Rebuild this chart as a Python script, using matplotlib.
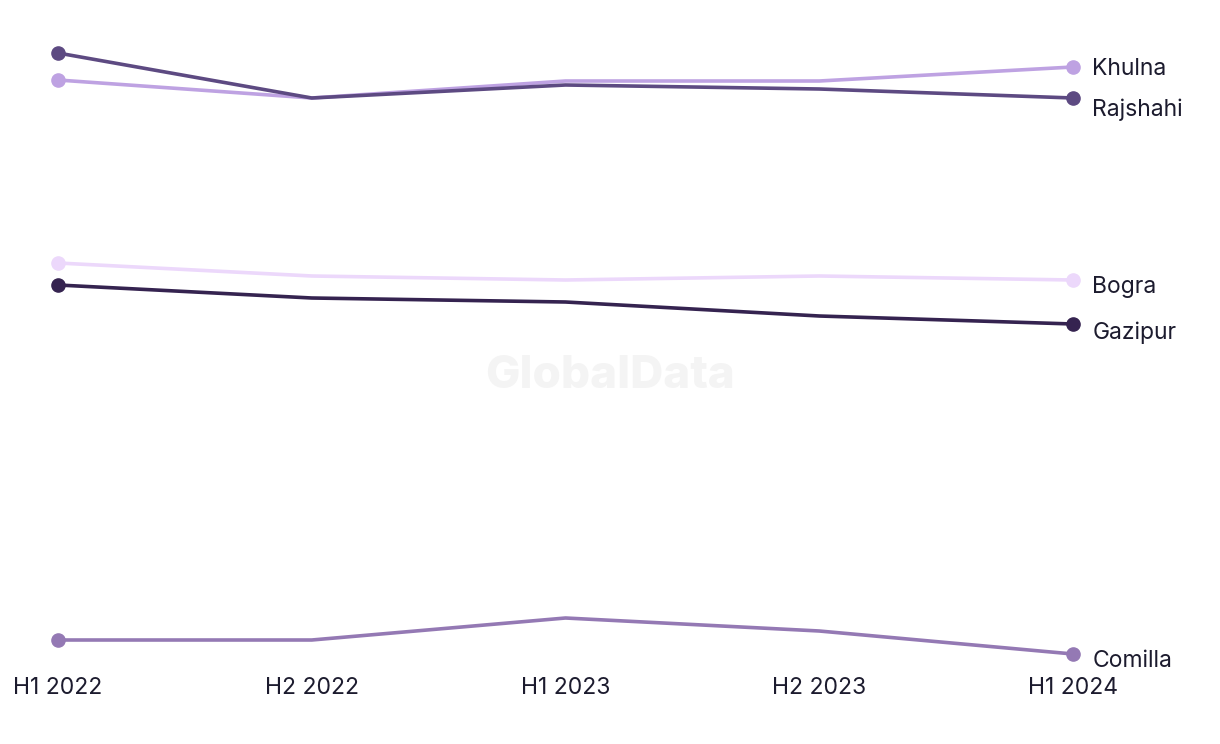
import matplotlib.pyplot as plt
import numpy as np

periods = ["H1 2022", "H2 2022", "H1 2023", "H2 2023", "H1 2024"]

rajshahi = [64.7, 60.2, 61.5, 61.1, 60.2]
khulna = [62.0, 60.2, 61.9, 61.9, 63.3]
bogra = [43.7, 42.4, 42.0, 42.4, 42.0]
gazipur = [41.5, 40.2, 39.8, 38.4, 37.6]
comilla = [6.0, 6.0, 8.2, 6.9, 4.6]

series = [
    ("Bogra", bogra, "#ecd8fb", -7),
    ("Khulna", khulna, "#bea2e2", -2),
    ("Comilla", comilla, "#9479b4", -7),
    ("Gazipur", gazipur, "#352350", -9),
    ("Rajshahi", rajshahi, "#5d4a82", -12),
]

plt.rcParams['font.family'] = ['Inter', 'DejaVu Sans']
text_color = "#1c1b2e"

fig = plt.figure(figsize=(12.2, 7.44), dpi=100)
ax = fig.add_axes([58 / 1220, (744 - 660) / 744, (1073 - 58) / 1220, 620 / 744])

x = np.arange(len(periods))
for name, vals, color, dy in series:
    ax.plot(x, vals, color=color, lw=2.6, solid_capstyle='round', zorder=2,
            clip_on=False)
    # markers only at the two ends
    ax.plot([x[0], x[-1]], [vals[0], vals[-1]], 'o', color=color, ms=9.5,
            zorder=3, clip_on=False)
    ax.annotate(name, (x[-1], vals[-1]), xytext=(14, dy * 0.72),
                textcoords='offset points', va='center', ha='left',
                fontsize=16.5, color=text_color, annotation_clip=False)

ax.set_xlim(0, 4)
ax.set_ylim(4, 66)
ax.set_xticks(x)
ax.set_xticklabels(periods, fontsize=16.5, color=text_color)
ax.tick_params(axis='x', length=0, pad=12.5)
ax.set_yticks([])
for s in ax.spines.values():
    s.set_visible(False)

fig.text(0.5, 0.495, "GlobalData", ha='center', va='center', fontsize=33,
         fontweight='heavy', color="#f4f4f4", zorder=0)

fig.savefig("out.png", dpi=100, facecolor='white')
